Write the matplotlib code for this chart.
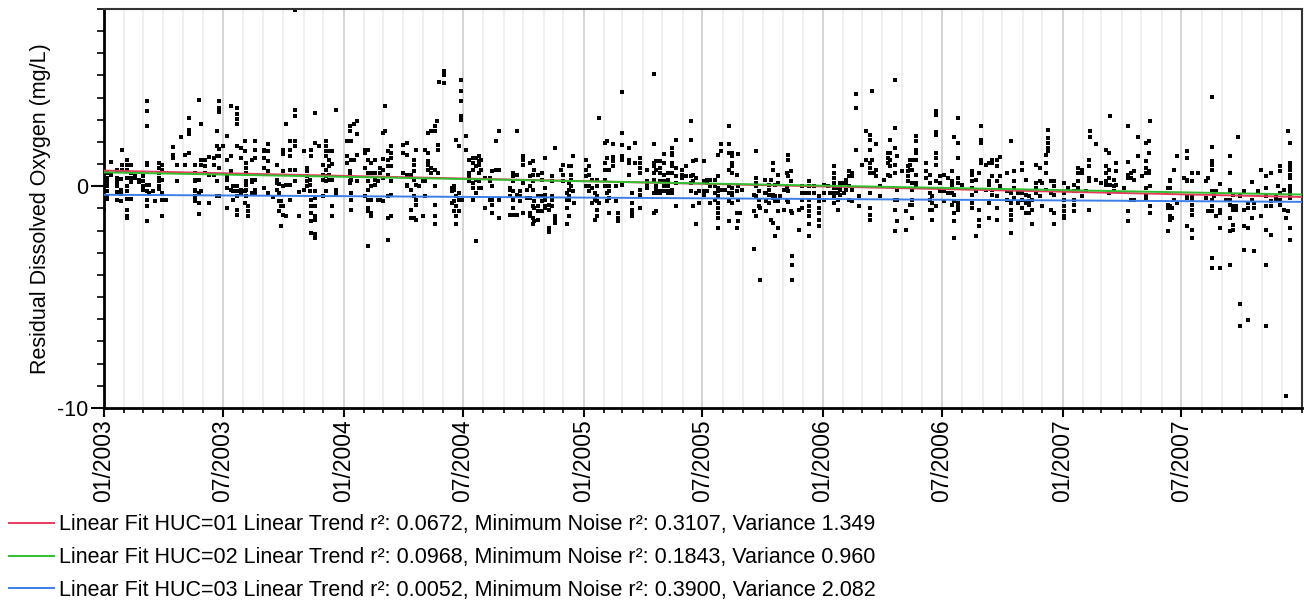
import numpy as np
import matplotlib
matplotlib.use('Agg')
import matplotlib.pyplot as plt
import matplotlib.dates as mdates
from matplotlib.ticker import MultipleLocator

plt.rcParams['font.family'] = ['Liberation Sans', 'DejaVu Sans']
plt.rcParams['axes.unicode_minus'] = False

# sampling days (offset from 01/01/2003) and residual DO values read per sampling date
days_2003 = [0, 4, 11, 19, 26, 28, 35, 41, 47, 54, 59, 65, 69, 75, 78, 84, 89, 95,
             105, 111, 117, 123, 129, 139, 144, 148, 154, 160, 167, 172, 175, 181,
             187, 193, 197, 202, 208, 215, 217, 220, 225, 230, 244, 250, 257, 263,
             267, 269, 272, 278, 284, 291, 297, 305, 309, 314, 316, 321, 327, 333,
             339, 343, 348, 354]
resid_2003 = [
    [-1.08], [0.60, 0.38, 0.18, 0, -0.23, -0.42, -0.56], [1.10, 0.53],
    [0.75, 0.38, 0.18, 0, -0.27, -0.60], [0.35, -0.15, -0.35, -0.68], [1.65, 0.95, 0.72],
    [1.20, 0.95, 0.72, 0.38, 0, -0.23, -0.57, -1.05, -1.32, -1.43],
    [0.95, 0.60, 0.38, 0.18, -0.57], [0.45, 0.38], [0.30, 0.18], [0.45, 0.23, 0, -0.15],
    [3.83, 3.38, 2.74, 1.05, 0.98, 0.05, -0.23, -0.60, -0.90, -1.58], [0.08, -0.30],
    [-0.23], [-0.68], [1.05, 0.83, 0.60, 0.38, 0.23, 0, -0.12],
    [0.95, 0.75, 0.30, -0.30, -0.60, -1.32], [-0.60],
    [1.76, 1.43, 1.28], [0.95, 0.23], [2.21], [1.43, 0.95], [3.08, 2.56, 2.36, 1.50],
    [0.98, 0.60, 0.30, 0.23, -0.15, -0.23, -0.45, -0.60, -0.68],
    [3.91, 0.30, -0.30, -0.75, -1.23], [2.83, 1.20, 0.95, -0.23], [1.20, 0.90, 0.60],
    [1.31, 0.53, -0.75], [1.28, 0.95, 0.53], [2.48, 1.80, 1.35, 0.23, -0.42],
    [3.83, 3.53, 3.35, 1.68, 1.35, 0.83, -0.45], [1.83],
    [2.29, 1.20, 0.45, 0.30, -0.08, -0.98], [3.64, 1.35, 0.68, -0.15], [0, -0.23, -0.60],
    [3.53, 3.28, 3.04, 2.83, 1.83, 0, -0.23, -0.45, -1.05, -1.28],
    [1.73, 1.28, -0.15, -0.30], [2.06, 1.58, -0.23, -0.75],
    [1.05, 0.83, 0.60, 0.23, 0.08, -0.15, -0.45], [-0.90, -1.13, -1.32],
    [1.20, 0.30, 0.18, -0.30], [2.03, 1.65, 1.28, 0.30, -0.15, -0.30],
    [1.65, 1.58, 1.28, 0.83, -0.08], [1.91, 1.58, 1.13, 0.68, -0.30], [-0.48],
    [0.95, 0.30, 0.15, -0.15], [0.12, -0.30, -0.68, -1.13], [-1.80, -0.90, -0.68],
    [1.65, 1.47, 0.68, 0, -0.90, -1.28], [2.83, 0.08, -1.32],
    [2.03, 1.65, 1.35, 0.75, 0.08, -0.60], [3.46, 3.19, 2.03, 1.80, 0.75, 0.23, 7.95],
    [-0.27, -1.32], [1.58, -0.15], [0.83, 0.68, 0.45, 0.23, 0], [0.30, 0.08, -0.23],
    [1.65, 1.35, -0.60, -0.90, -1.20, -1.58, -2.11],
    [3.31, 1.95, -0.23, -0.53, -0.87, -1.35, -1.50, -2.15, -2.33], [1.80],
    [0.98, 0.53, 0.30, -0.45], [2.03, 1.80, 1.58, 1.35, 0.75, 0.45, 0.23, -0.23],
    [1.58, 1.20, 0.90, 0.53, 0.30], [1.58, 1.02, 0.30, -0.90, -1.32], [3.46, -0.15, -0.33],
]

days_2004 = [370, 375, 377, 381, 385, 398, 403, 407, 413, 418, 420, 425, 428, 433, 438,
             456, 461, 468, 473, 476, 480, 486, 489, 494, 498, 504, 507, 509, 511, 518,
             530, 534, 537, 541, 544, 545, 552, 557, 562, 567, 571, 575, 580, 588, 592,
             597, 602, 618, 623, 629, 634, 638, 644, 649, 654, 656, 662, 667, 672, 678,
             683, 687, 696, 700, 705, 708, 711, 715, 717]
resid_2004 = [
    [2.03, 1.35, 1.05], [2.71, 2.48, 0.68, 0.53, 0.23, 0.15],
    [2.03, 1.20, 0.30, -0.30, -0.60, -1.05], [2.83, 1.20], [2.93, 2.38, 1.43, 0.23],
    [1.65, 1.50, 0.83, -0.45], [1.65, 1.20, 0.60, 0.23, -0.15, -0.60, -0.98, -1.13, -2.68],
    [1.05, 0.60, 0, -0.60, -1.20, -1.32], [1.20, 0.60, 0.30, 0.08], [0.23, -0.60],
    [0.83, 0.60, -0.60], [2.41, 1.23, 0.75, 0.38, -0.68], [3.64, 2.48],
    [1.58, 1.20, 0.90, 0.53, -0.45, -1.43, -2.41], [1.80, 1.50, 1.28, 0.90, 0.23, -0.38, -1.32],
    [0.60, 1.50, 1.88], [1.95, 1.43, 0.53, 0.08, 0], [0.53, -0.15, -1.05, -1.43],
    [1.20, 0.98, 0.68, 0.30, -0.45, -1.43], [1.65, 0.08, -0.60, -0.83, -1.50], [0],
    [0.23, -1.35], [1.65, 0.23, -0.45], [2.41, 1.50, 1.13, 0.95, 0.75], [2.48, 0.83, 0.60],
    [2.71, 2.48, 0.75, 0, -0.83, -1.35, -1.68], [2.93], [1.88, 1.65, 0.60], [4.71],
    [5.19, 5.04, 4.66], [-0.08, -0.23, -0.75], [0, -0.15, -0.68, -1.13],
    [2.11, -0.45, -0.90, -1.35, -1.68], [1.83, -0.30, -0.60, -1.13],
    [4.81, 4.29, 3.83, 3.16, 3.01], [-0.60], [2.29, 1.65], [1.20, 0.60, 0.45, 0.23],
    [1.28, 1.05, 0.75, 0.15, -0.08, -0.60], [1.28, 0.90, 0.30, -0.30, -2.48],
    [1.35, 1.13, 0.98, 0.60, 0.23, -0.08], [1.20, 0.75, -0.08], [0.38, -0.98],
    [0.38, 0.23, -0.60], [0.68, 0, -0.60, -0.83, -1.20], [0.75, 2.03],
    [2.48, 0.75, -0.60, -1.43], [-0.08, -0.15, -0.45, -1.28],
    [0.60, 0.45, 0.23, -0.23, -0.60, -0.98, -1.28], [2.48, 0.53, -0.38, -1.28],
    [-0.23, -0.45, -0.68], [1.35, 1.20, 0.98, 0.15, -1.20], [-0.15, -0.53],
    [1.05, 0.45, 0, -0.53, -1.20, -1.32], [1.13, 0.53, 0.23, -0.15, -0.90, -1.43, -1.68],
    [0.75, -0.68, -0.98, -1.58], [0.53, -0.45, -0.90, -1.13, -1.50],
    [0.60, 0.30, -0.45, -0.68, -1.13], [1.28, -0.08, -0.38, -0.60, -0.90, -0.98],
    [-0.83, -1.05, -1.88, -2.08], [0.45, 0.23, -0.45, -0.60, -0.90], [1.73, -1.35, -1.50, -1.65],
    [0.75], [0.98, 0.53, 0.23], [-0.30, -0.60, -0.98, -1.68],
    [0.90, 0.15, -0.15, -0.45, -0.60, -1.32], [0.90, 0.53, 0.30, 0], [1.38, -0.23], [-0.75],
]

days_2005 = [735, 739, 743, 748, 751, 754, 763, 766, 769, 775, 781, 784, 790, 800, 805,
             809, 817, 827, 838, 842, 847, 854, 860, 866, 872, 881, 887, 894, 898, 902,
             907, 915, 919, 924, 931, 936, 940, 946, 952, 957, 964, 967, 970, 973, 991,
             994, 998, 1000, 1007, 1009, 1013, 1016, 1020, 1023, 1027, 1031, 1037, 1041,
             1042, 1047, 1049, 1060, 1064, 1068, 1075, 1082, 1090]
resid_2005 = [
    [1.20, 0.75, 0.45, 0], [0.90, 0.53, 0, -0.23], [0.30, -0.08, -0.75], [-0.30, -0.60, -1.50],
    [0.30, 0, -0.45, -0.68, -1.05, -1.32], [3.08, -0.75], [1.95, 1.05, 0.75, 0.30, 0],
    [2.03, 1.28, 0.75, -0.30, -0.68], [0.75, 0, -0.23, -0.53, -1.20], [1.92, 1.32, 1.13, 0.93],
    [0, -0.68], [-1.20, -1.43, -1.58], [4.24, 2.41, 1.88, 1.35, 1.20, 0.08],
    [1.73, 1.20, 1.05, 0.53], [-0.30, -0.75, -1.05, -1.20, -1.32], [1.95, 1.05],
    [1.28, 1.05, 0.83, 0.60, -0.15, -0.38, -0.98], [0.75, 0.23, 0.08, -0.08],
    [5.08, 1.91, 1.05, 0.90, 0.60, 0.30, -0.30, -1.20], [1.13, 0.75, 0, -0.15, -0.30, -1.13],
    [1.13, 0.83, 0.60, 0.23, -0.23, -0.30], [1.47, 1.05, 0.53, 0.23, 0, -0.23],
    [0.60, 0.30, 0, -0.23, -0.30], [1.73, 1.50, 1.43, 1.05, 0.90, 0.60, -0.15, -0.30],
    [2.11, 0.83, 0.45, 0.15, -0.90], [0.75, 0.53, 0.38], [0.90, 0.45],
    [2.93, 2.11, 0.45, 0.15, -0.23], [1.13, 0.53, 0.23, -0.90], [1.17, 0.38, -0.30, -1.68],
    [-0.23, -0.75], [1.13, 0.23, -0.23, -0.38], [0.30, 0.15, -0.23], [0.30, 0, -0.75],
    [0.30, 0, -0.30, -0.60], [1.43, 0.45, -0.08, -0.23, -0.45, -0.75, -0.98, -1.20, -1.43, -1.88],
    [1.92, 1.58, -0.15], [-0.15], [2.74, 1.92, 1.50, 0.75, 0, -0.30, -0.68, -1.58],
    [1.50, 1.35, 1.05, 0.90, 0.60, -0.08, -0.30, -0.38, -0.75], [0.53, -0.23, -1.20, -1.88],
    [1.47, 0, -0.60, -1.58], [-1.20], [-0.15], [-0.38, -1.13, -2.83],
    [1.58, 0.38, 0.15, 0, -0.45, -1.35], [-0.23, -0.60, -0.87], [-4.21, -0.98], [0.30, -0.30],
    [-0.30, -0.68, -1.13], [0.08, -0.15, -0.38, -0.75], [0.30, -0.38, -1.50],
    [1.05, 0.75, -0.38, -0.53, -1.65], [0.08, -0.45, -0.68, -2.23],
    [0.53, 0.15, -0.68, -1.13, -1.88], [-0.45], [-0.15, -1.05], [0.60, -0.08, -0.60],
    [1.43, 1.20, 0.45, -0.23, -0.72], [0.68, 0.23, -1.13], [-3.16, -3.53, -4.21, -1.20],
    [-1.95, -1.05], [0, -0.30, -0.60, -0.98], [-0.30],
    [0.23, 0, -0.30, -0.60, -0.90, -1.13, -1.35, -1.68, -2.23], [0, -0.30],
    [-0.45, -0.68, -0.98, -1.20, -1.50, -1.77],
]

days_2006 = [1097, 1103, 1107, 1112, 1118, 1122, 1128, 1131, 1135, 1140, 1146, 1150, 1155,
             1162, 1168, 1171, 1173, 1177, 1183, 1189, 1195, 1198, 1205, 1208, 1217, 1222,
             1225, 1229, 1232, 1238, 1253, 1259, 1262, 1268, 1274, 1281, 1287, 1292, 1296,
             1301, 1308, 1323, 1329, 1333, 1336, 1344, 1349, 1354, 1361, 1366, 1377, 1383,
             1387, 1393, 1399, 1405, 1410, 1414, 1420, 1427, 1430, 1436, 1439, 1443, 1448]
resid_2006 = [
    [0.08, -0.30, -0.60], [0], [-0.30], [0.90, 0.60, 0.38, 0.15, -0.08, -0.30, -0.45, -0.75],
    [-0.08, -0.30, -0.60, -1.05], [0.15, 0, -0.15, -0.38], [0.15, -0.30], [0.30, 0.15, -0.15],
    [0.68, 0.45, 0, -0.60], [0.60, 0.45, -0.15, -0.68], [4.17, 3.53, 1.65], [-0.45, -0.90],
    [0.95], [2.48, 1.20], [2.33, 2.11, 1.65, 1.05, 0.83, 0.60, -0.30, -0.98, -1.28, -1.50],
    [4.29, 1.20], [0.60], [1.91, 0.75, 0.45], [0, -0.45], [0.30], [1.50, 1.28, 1.05, 0.53],
    [2.11, 1.50, 1.20, 0.90, 0.45], [4.81, 2.63, 1.73, 0.98, 0.60, -0.60, -1.05, -2.03],
    [1.35, -0.15, -0.60, -1.58], [0.68], [-1.13, -1.95], [0.90, 0.68, 0.45, 0.23],
    [1.20, 0.98, 0.75, -0.83], [1.20, 0.75, 0.15, -0.15, -0.60, -0.83, -1.43],
    [2.26, 2.03, 1.65, 1.50, 1.20, 0.53, 0.15, 0.08], [1.05, 0.68, 0.38],
    [0.53, 0.15, -0.30, -0.60, -1.05], [-0.45, -0.75, -1.05, -1.50],
    [3.38, 3.23, 2.44, 2.33, 1.50, 1.28, 0.95, 0.23, -0.90], [0.45, 0.15, -0.23],
    [0.53, -0.23, -0.68], [0.38, -0.30], [0.68, 0.23, 0.08, -0.30, -0.83],
    [2.23, -0.38, -0.68, -1.20, -1.58, -2.33], [3.08, 1.95, 1.28, 0.38, 0.15, -0.75, -0.90, -1.05],
    [0.08], [0.68, 0.53, 0.23, -0.08, -0.38, -0.75, -0.98], [0.30, -0.23, -2.26],
    [0.60, -1.05, -1.50, -1.80], [2.74, 2.11, 1.95, 1.20, 1.05], [0.98, -0.15],
    [1.05, 0.23, 0.08, -0.75, -1.43], [1.20, 1.05, 0.45, -0.15, -0.38],
    [1.20, 0.90, 0.23, -0.45, -0.98, -1.50], [1.32, 0.45, 0], [0.60, -0.23, -0.60],
    [2.03, -0.30, -0.75, -1.05, -1.28, -1.50, -2.11], [0.68, 0.23, -0.08, -0.53], [-0.30, -0.75],
    [1.05, 0.75, -0.30, -0.60, -0.98], [0.30, -0.38, -0.75, -1.20], [-0.45, -0.68, -0.83, -1.20],
    [-0.60, -1.05, -1.68], [0.95, 0.15, -0.08, -0.30], [0.83, 0.23, -0.45], [0.15, -0.90],
    [1.43, 1.05, 0.60, -0.15], [2.56, 2.18, 1.95, 1.73, 1.58], [0.23, -0.30, -1.05],
    [0.23, 0, -0.38, -1.20, -1.68],
]

days_2007 = [1463, 1469, 1478, 1484, 1491, 1497, 1501, 1503, 1512, 1519, 1527, 1531, 1534,
             1540, 1542, 1555, 1561, 1566, 1570, 1576, 1582, 1588, 1592, 1594, 1621, 1625,
             1628, 1631, 1636, 1646, 1651, 1658, 1667, 1679, 1683, 1689, 1692, 1695, 1701,
             1710, 1716, 1721, 1725, 1729, 1732, 1737, 1743, 1749, 1753, 1759, 1764, 1771,
             1779, 1786, 1790, 1792, 1799, 1802, 1805, 1807]
resid_2007 = [
    [0.15, -0.30, -0.60, -0.90, -1.13, -1.35, -1.43], [-0.08], [0.08, -0.23, -0.60, -0.83, -1.13],
    [0.83, 0.60, 0.23, -0.08], [0.75, 0.60, -0.45], [-0.23], [1.20, 0.90, 0.38, 0.23, -1.05],
    [2.48, 2.23], [1.92, 0.30], [0.15], [1.65, 0.90, 0.60, 0.23, 0.08], [1.50, 0.75, 0.38, -0.30],
    [3.19, 0.08], [0.30, 0, -0.23], [1.05, 0.68, 0.08], [-0.08],
    [2.74, 1.10, 0.53, 0.38, -1.13, -1.58], [0.60, 0.38, -0.60], [0.68, 0.30, -0.60],
    [2.23, 1.38], [0.45], [1.95, 1.13, 0.83, 0.60, -0.08, -0.45, -0.57], [2.03, 1.50, 0.68, 0.60],
    [2.93, 0.03, -0.90, -1.20], [-0.08, -0.83, -0.98, -2.03], [0.30, 0.23, -0.08, -0.90, -1.35, -1.50],
    [-0.98, -1.43], [0.75, -0.60], [1.38, -0.75], [0.38], [1.58, 1.28, 0.30, 0.23, -0.45, -0.53, -1.80],
    [0.60, 0.23, -0.45, -0.60, -0.83, -1.05, -1.28, -1.95, -2.33], [0.60], [0.23, -0.53],
    [0.38, -1.13], [4.02, 1.76, 1.13, 0.98, 0.75, -0.23, -0.60, -0.90, -1.13, -3.23, -3.68],
    [-0.45, -0.30], [-0.23, -1.35], [0.11, -1.05, -1.20, -1.88, -3.68], [-0.60],
    [1.38, 0.60, -0.15, -0.23, -0.60, -0.83, -1.43, -2.03, -3.53], [-0.38, -0.90, -1.05, -1.73, -1.95],
    [-0.90, -1.05], [2.23], [-0.45, -5.31, -6.29], [-0.23, -1.05, -1.80, -2.86],
    [-0.75, -0.98, -1.88, -6.02], [0.18, -0.60, -1.43], [-0.75, -0.98, -2.93], [-0.23],
    [0.75, -1.35], [0.45, -0.08, -0.45, -0.90, -1.95, -3.53, -6.29], [0.60, -0.68, -0.90, -2.18],
    [-0.45, -0.60], [0], [0.90, 0.68, -0.30, -0.60, -0.83], [-0.15, -1.05], [-1.43, -9.44],
    [2.48, -1.13],
    [1.95, 1.05, 0.90, 0.75, 0.53, 0.38, 0, -0.15, -0.23, -0.38, -0.53, -1.88, -2.41],
]

# linear fits: value at 01/2003 and at 01/2008
fit_labels = [
    'Linear Fit HUC=01 Linear Trend r\u00b2: 0.0672, Minimum Noise r\u00b2: 0.3107, Variance 1.349',
    'Linear Fit HUC=02 Linear Trend r\u00b2: 0.0968, Minimum Noise r\u00b2: 0.1843, Variance 0.960',
    'Linear Fit HUC=03 Linear Trend r\u00b2: 0.0052, Minimum Noise r\u00b2: 0.3900, Variance 2.082',
]
fit_start = [0.71, 0.63, -0.38]
fit_end = [-0.48, -0.37, -0.70]
fit_colors = ['#e8395c', '#2fbf2f', '#3c7ee8']

start = np.datetime64('2003-01-01')
end = np.datetime64('2008-01-01')
tick_dates = [np.datetime64('%d-%02d-01' % (yr, mo)) for yr in range(2003, 2008) for mo in (1, 7)]

all_days = days_2003 + days_2004 + days_2005 + days_2006 + days_2007
all_resid = resid_2003 + resid_2004 + resid_2005 + resid_2006 + resid_2007
xs, ys = [], []
for d, vals in zip(all_days, all_resid):
    for v in vals:
        xs.append(start + np.timedelta64(d, 'D'))
        ys.append(v)
xs = np.array(xs, dtype='datetime64[D]')

fig = plt.figure(figsize=(13.04, 6), dpi=100)
ax = fig.add_axes([0.0798, 0.32, 0.9187, 0.665])

ax.scatter(xs, ys, s=12, marker='s', color='black', linewidths=0, zorder=2)
for lab, a, b, c in zip(fit_labels, fit_start, fit_end, fit_colors):
    ax.plot([start, end], [a, b], color=c, lw=1.4, label=lab, zorder=3)

ax.set_xlim(start, end)
ax.set_ylim(-10, 8)
ax.xaxis.set_minor_locator(mdates.MonthLocator())
ax.set_xticks(tick_dates)
ax.xaxis.set_major_formatter(mdates.DateFormatter('%m/%Y'))
plt.setp(ax.get_xticklabels(), rotation=90)
ax.set_yticks([-10, 0])
ax.yaxis.set_minor_locator(MultipleLocator(1))
ax.tick_params(axis='x', which='major', length=6.5, width=1.5, labelsize=16.5, pad=1.5)
ax.tick_params(axis='x', which='minor', length=3.6, width=1.2)
ax.tick_params(axis='y', which='major', length=9.5, width=1.5, labelsize=15.5, pad=2)
ax.tick_params(axis='y', which='minor', length=5, width=1.2)
ax.grid(True, which='major', axis='x', color='#d2d2d2', lw=1.3)
ax.grid(True, which='minor', axis='x', color='#ebebeb', lw=1.1)
ax.set_axisbelow(True)
for s in ['left', 'bottom']:
    ax.spines[s].set_linewidth(2)
for s in ['top', 'right']:
    ax.spines[s].set_linewidth(1.5)
    ax.spines[s].set_color('#333333')

ax.set_ylabel('Residual Dissolved Oxygen (mg/L)', fontsize=15.5, labelpad=4)

fig.legend(loc='upper left', bbox_to_anchor=(0.007, 0.143), frameon=False,
           fontsize=15.5, handlelength=2.1, handletextpad=0.2, labelspacing=0.55,
           borderpad=0, borderaxespad=0)

fig.savefig('out.png', dpi=100)
